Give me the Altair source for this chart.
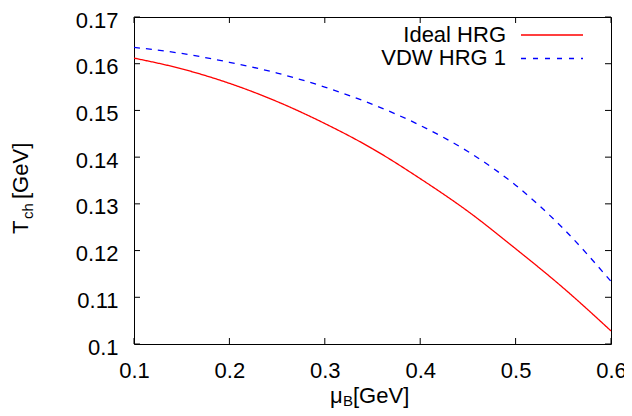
import altair as alt
import pandas as pd

# ---- data ----
mu_b = [0.10, 0.15, 0.20, 0.25, 0.30, 0.35, 0.40, 0.45, 0.50, 0.55, 0.60]
ideal_hrg = [0.1612, 0.1589, 0.1558, 0.1519, 0.1472, 0.1418, 0.1354, 0.1284, 0.1204, 0.1120, 0.1028]
vdw_hrg_1 = [0.1635, 0.1622, 0.1603, 0.1580, 0.1550, 0.1513, 0.1468, 0.1412, 0.1340, 0.1247, 0.1134]
series_names = ["Ideal HRG", "VDW HRG 1"]
series_colors = ["#ff0000", "#0000ff"]
x_ticks = [0.1, 0.2, 0.3, 0.4, 0.5, 0.6]
y_ticks = [0.10, 0.11, 0.12, 0.13, 0.14, 0.15, 0.16, 0.17]

FONT = "Liberation Sans"
FS = 22
W, H = 477, 327
TICK = 6

df = pd.DataFrame({
    "mu": mu_b + mu_b,
    "T": ideal_hrg + vdw_hrg_1,
    "series": [series_names[0]] * len(mu_b) + [series_names[1]] * len(mu_b),
})
xt = pd.DataFrame({"mu": x_ticks})
yt = pd.DataFrame({"T": y_ticks})

xs = alt.Scale(domain=[0.1, 0.6], nice=False, zero=False)
ys = alt.Scale(domain=[0.1, 0.17], nice=False, zero=False)

ax_x = alt.Axis(values=x_ticks, format=".1f", title=None, ticks=False, tickSize=0, domain=False,
                grid=False, labelFontSize=FS, labelFont=FONT, labelColor="black",
                labelPadding=16, labelFlush=False, labelOverlap=False)
ax_y = alt.Axis(values=y_ticks, format=".2~f", title=None, ticks=False, tickSize=0, domain=False,
                grid=False, labelFontSize=FS, labelFont=FONT, labelColor="black",
                labelPadding=16, labelOffset=3, labelFlush=False, labelOverlap=False)

X = alt.X("mu:Q", scale=xs, axis=ax_x)
Y = alt.Y("T:Q", scale=ys, axis=ax_y)

lines = alt.Chart(df).mark_line(strokeWidth=1.3, interpolate="monotone").encode(
    x=X, y=Y,
    color=alt.Color("series:N", scale=alt.Scale(domain=series_names, range=series_colors), legend=None),
    strokeDash=alt.StrokeDash("series:N", scale=alt.Scale(domain=series_names, range=[[1, 0], [6, 6]]), legend=None),
)

tick_b = alt.Chart(xt).mark_rule(color="black", strokeWidth=1).encode(
    x=X, y=alt.value(H), y2=alt.value(H - TICK))
tick_t = alt.Chart(xt).mark_rule(color="black", strokeWidth=1).encode(
    x=X, y=alt.value(0), y2=alt.value(TICK))
tick_l = alt.Chart(yt).mark_rule(color="black", strokeWidth=1).encode(
    y=Y, x=alt.value(0), x2=alt.value(TICK))
tick_r = alt.Chart(yt).mark_rule(color="black", strokeWidth=1).encode(
    y=Y, x=alt.value(W), x2=alt.value(W - TICK))

# legend (text right-aligned, sample line to the right)
leg = []
leg_y = [25.3, 48.0]
leg_line_y = [18.0, 41.5]
dashes = [[1, 0], [5, 7]]
for i, name in enumerate(series_names):
    d = pd.DataFrame({"label": [name]})
    leg.append(alt.Chart(d).mark_text(align="right", baseline="alphabetic", font=FONT,
                                       fontSize=FS, color="black").encode(
        text="label:N", x=alt.value(372), y=alt.value(leg_y[i])))
    leg.append(alt.Chart(d).mark_rule(color=series_colors[i], strokeWidth=1.3,
                                       strokeDash=dashes[i]).encode(
        x=alt.value(387), x2=alt.value(449), y=alt.value(leg_line_y[i])))


def txt(s, x, y, size, angle=0):
    return alt.Chart(pd.DataFrame({"t": [s]})).mark_text(
        align="left", baseline="alphabetic", font=FONT, fontSize=size,
        color="black", angle=angle).encode(text="t:N", x=alt.value(x), y=alt.value(y))


# x title: mu_B[GeV]
xtitle = [txt("μ", 196, 386, FS), txt("B", 209, 389, 15), txt("[GeV]", 219, 386, FS)]
# y title: T_ch [GeV], rotated
ytitle = [txt("T", -106, 217, FS, 270), txt("ch", -101, 202, 15, 270), txt("[GeV]", -106, 182, FS, 270)]

chart = alt.layer(lines, tick_b, tick_t, tick_l, tick_r, *leg, *xtitle, *ytitle).properties(
    width=W, height=H,
    autosize=alt.AutoSizeParams(type="none"),
    padding={"left": 126, "top": 9, "right": 13, "bottom": 64},
    background="white",
).configure_view(stroke="black", strokeWidth=1)

chart.save("out.html", embed_options={"renderer": "svg", "actions": False})
